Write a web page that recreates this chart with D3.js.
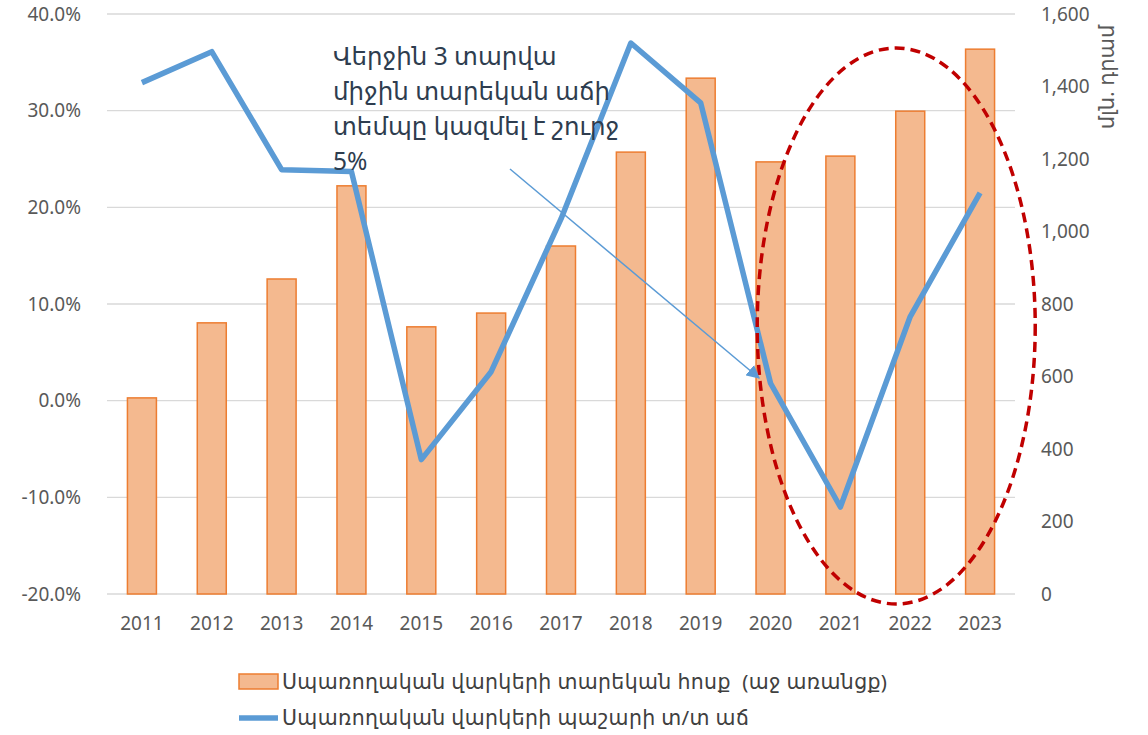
<!DOCTYPE html>
<html>
<head>
<meta charset="utf-8">
<script src="https://cdn.jsdelivr.net/npm/d3@7"></script>
<style>
  body { margin: 0; background: #fff; }
  text { font-family: "Noto Sans", "DejaVu Sans", sans-serif; white-space: pre; }
</style>
</head>
<body>
<svg id="chart" width="1148" height="735"></svg>
<script>

/*
 * Chart data.
 */
var years = ['2011', '2012', '2013', '2014', '2015', '2016', '2017',
  '2018', '2019', '2020', '2021', '2022', '2023'];
var flow = [541, 748, 869, 1126, 737, 775, 960, 1219, 1423, 1192, 1208, 1332, 1503];
var growth = [32.9, 36.1, 23.9, 23.7, -6.1, 3.0, 18.8, 37.0, 30.8, 1.8, -11.0, 8.7, 21.5];
var leftTicks = [-20, -10, 0, 10, 20, 30, 40];
var rightTicks = [0, 200, 400, 600, 800, 1000, 1200, 1400, 1600];
var note = ['Վերջին 3 տարվա', 'միջին տարեկան աճի', 'տեմպը կազմել է շուրջ', '5%'];
var legendLabels = [
  'Սպառողական վարկերի տարեկան հոսք  (աջ առանցք)',
  'Սպառողական վարկերի պաշարի տ/տ աճ'
];
var axisTitle = 'մլն. դրամ';

// Plot box (window.top is taken, so no bare "top").
var plotLeft = 107, plotRight = 1015, plotTop = 14, plotBottom = 594;
var grey = '#595959';

var svg = d3.select('#chart');

// Scales.
var x = d3.scaleBand().domain(years).range([plotLeft, plotRight])
  .paddingInner(0.585).paddingOuter(0.2925);
var yLeft = d3.scaleLinear().domain([-20, 40]).range([plotBottom, plotTop]);
var yRight = d3.scaleLinear().domain([0, 1600]).range([plotBottom, plotTop]);
var cx = function(d) { return x(d) + x.bandwidth() / 2; };

// Gridlines.
svg.append('g').selectAll('line').data(leftTicks).enter().append('line')
  .attr('x1', plotLeft).attr('x2', plotRight)
  .attr('y1', function(d) { return yLeft(d); })
  .attr('y2', function(d) { return yLeft(d); })
  .attr('stroke', '#d9d9d9').attr('stroke-width', 1.3);

// Left axis.
var axL = svg.append('g').attr('transform', 'translate(' + (plotLeft - 23) + ',0)')
  .call(d3.axisLeft(yLeft).tickValues(leftTicks).tickSize(0)
    .tickFormat(function(d) { return d.toFixed(1) + '%'; }));

// Right axis.
var axR = svg.append('g').attr('transform', 'translate(' + (plotRight + 23) + ',0)')
  .call(d3.axisRight(yRight).tickValues(rightTicks).tickSize(0)
    .tickFormat(d3.format(',')));

// Bottom axis.
var axB = svg.append('g').attr('transform', 'translate(0,' + (plotBottom + 18) + ')')
  .call(d3.axisBottom(x).tickSize(0));

[axL, axR, axB].forEach(function(ax) {
  ax.select('.domain').remove();
  ax.selectAll('text').attr('fill', grey)
    .style('font-size', '19px').style('font-family', null);
});
axB.selectAll('text').attr('dy', '0.8em');

// Axis title.
svg.append('text')
  .attr('transform', 'translate(1114,77) rotate(-90)')
  .attr('text-anchor', 'middle')
  .attr('fill', grey).style('font-size', '21px')
  .text(axisTitle);

// Bars.
svg.append('g').selectAll('rect').data(years).enter().append('rect')
  .attr('x', function(d) { return x(d); })
  .attr('width', x.bandwidth())
  .attr('y', function(d, i) { return yRight(flow[i]); })
  .attr('height', function(d, i) { return plotBottom - yRight(flow[i]); })
  .attr('fill', '#f4b98f').attr('stroke', '#ed7d31').attr('stroke-width', 1.5);

// Growth line.
var line = d3.line()
  .x(function(d, i) { return cx(years[i]); })
  .y(function(d) { return yLeft(d); });

svg.append('path').datum(growth)
  .attr('d', line)
  .attr('fill', 'none').attr('stroke', '#5b9bd5')
  .attr('stroke-width', 5.5).attr('stroke-linejoin', 'round');

// Highlight ellipse round the last three years.
svg.append('ellipse')
  .attr('cx', cx('2022') - 14).attr('cy', 326)
  .attr('rx', 139).attr('ry', 278)
  .attr('fill', 'none').attr('stroke', '#c00000')
  .attr('stroke-width', 3.5).attr('stroke-dasharray', '10,6');

// Arrow.
svg.append('defs').append('marker')
  .attr('id', 'head').attr('viewBox', '0 0 10 10')
  .attr('refX', 9).attr('refY', 5)
  .attr('markerWidth', 9).attr('markerHeight', 9)
  .attr('orient', 'auto')
  .append('path').attr('d', 'M0,0L10,5L0,10Z').attr('fill', '#5b9bd5');

svg.append('line')
  .attr('x1', 510).attr('y1', 169)
  .attr('x2', 759).attr('y2', 378)
  .attr('stroke', '#5b9bd5').attr('stroke-width', 1.5)
  .attr('marker-end', 'url(#head)');

// Annotation text.
svg.append('g').selectAll('text').data(note).enter().append('text')
  .attr('x', 333)
  .attr('y', function(d, i) { return 65 + i * 35; })
  .attr('fill', '#2e3d4f').style('font-size', '24.5px')
  .text(function(d) { return d; });

// Legend.
var legend = svg.append('g');
legend.append('rect')
  .attr('x', 239).attr('y', 674).attr('width', 39).attr('height', 15)
  .attr('fill', '#f4b98f').attr('stroke', '#ed7d31').attr('stroke-width', 1.5);
legend.append('line')
  .attr('x1', 239).attr('x2', 278).attr('y1', 718).attr('y2', 718)
  .attr('stroke', '#5b9bd5').attr('stroke-width', 5.5);
legend.selectAll('text').data(legendLabels).enter().append('text')
  .attr('x', 282)
  .attr('y', function(d, i) { return 689 + i * 36; })
  .attr('fill', '#404040').style('font-size', '20.5px')
  .style('letter-spacing', '0.35px')
  .text(function(d) { return d; });

</script>
</body>
</html>
